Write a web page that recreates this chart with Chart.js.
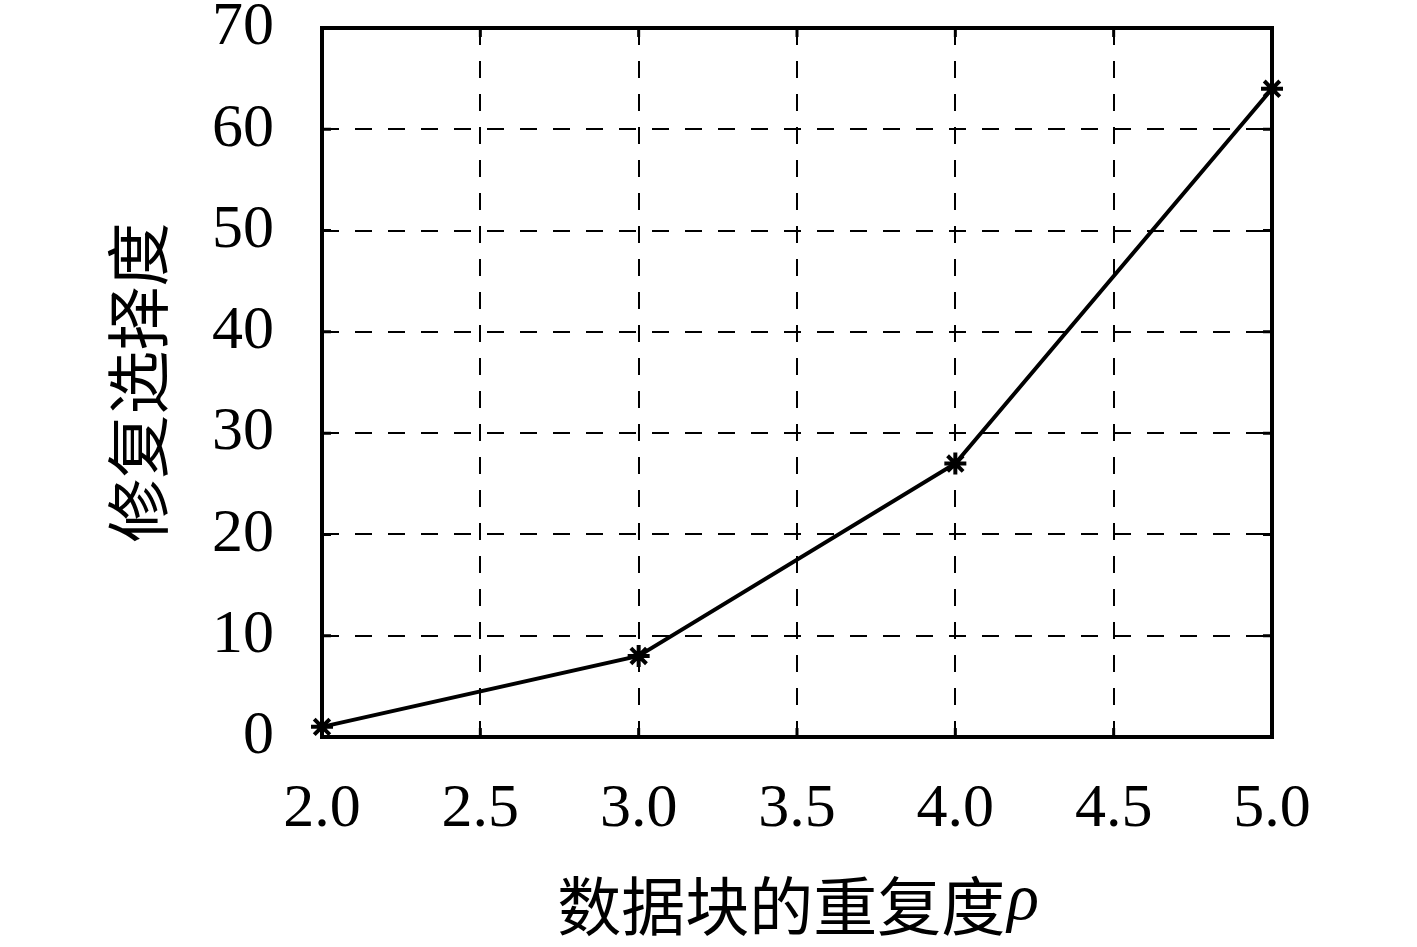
<!DOCTYPE html>
<html>
<head>
<meta charset="utf-8">
<title>修复选择度</title>
<script src="https://cdn.jsdelivr.net/npm/chart.js@4.4.1/dist/chart.umd.min.js"></script>
<style>
    html, body { margin: 0; padding: 0; background: #ffffff; }
    #wrap { width: 1417px; height: 947px; }
</style>
</head>
<body>
<div id="wrap"><canvas id="chart" width="1417" height="947"></canvas></div>
<script>
/* ------------------------------------------------------------
   DATA
------------------------------------------------------------ */
const repetition = [2.0, 3.0, 4.0, 5.0];      // 数据块的重复度 ρ
const selectivity = [1, 8, 27, 64];           // 修复选择度
const xTickValues = [2.0, 2.5, 3.0, 3.5, 4.0, 4.5, 5.0];
const yTickValues = [0, 10, 20, 30, 40, 50, 60, 70];

const X_TITLE = "数据块的重复度";
const X_TITLE_SYMBOL = "ρ";
const Y_TITLE = "修复选择度";

/* ------------------------------------------------------------
   STYLE
------------------------------------------------------------ */
const INK = "#000000";
const TICK_FONT = { family: "'Liberation Serif', 'DejaVu Serif', serif", size: 62 };
const CJK_FONT = "64px 'Noto Sans CJK SC', sans-serif";

/* ------------------------------------------------------------
   FRAME + INNER TICKS + AXIS TITLES
------------------------------------------------------------ */
const framePlugin = {
    id: "frame",
    beforeDatasetsDraw(chart) {
        const { ctx, chartArea: a, scales } = chart;
        const len = 9;
        ctx.save();
        ctx.strokeStyle = INK;
        ctx.lineWidth = 3;
        ctx.setLineDash([]);
        ctx.beginPath();
        xTickValues.forEach(v => {
            const px = scales.x.getPixelForValue(v);
            ctx.moveTo(px, a.bottom); ctx.lineTo(px, a.bottom - len);
            ctx.moveTo(px, a.top); ctx.lineTo(px, a.top + len);
        });
        yTickValues.forEach(v => {
            const py = scales.y.getPixelForValue(v);
            ctx.moveTo(a.left, py); ctx.lineTo(a.left + len, py);
            ctx.moveTo(a.right, py); ctx.lineTo(a.right - len, py);
        });
        ctx.stroke();
        ctx.lineWidth = 4;
        ctx.strokeRect(a.left, a.top, a.right - a.left, a.bottom - a.top);
        ctx.restore();
    },
    afterDraw(chart) {
        const { ctx, chartArea: a } = chart;
        ctx.save();
        ctx.fillStyle = INK;

        // x title (CJK + italic rho)
        ctx.font = CJK_FONT;
        const w1 = ctx.measureText(X_TITLE).width;
        const symFont = "italic 66px 'Liberation Serif', serif";
        ctx.font = symFont;
        const w2 = ctx.measureText(X_TITLE_SYMBOL).width;
        const cx = (a.left + a.right) / 2;
        const x0 = cx - (w1 + w2) / 2;
        ctx.textBaseline = "middle";
        ctx.textAlign = "left";
        ctx.font = CJK_FONT;
        ctx.fillText(X_TITLE, x0, 906);
        ctx.font = symFont;
        ctx.fillText(X_TITLE_SYMBOL, x0 + w1 + 2, 902);

        // y title, rotated
        ctx.translate(138, (a.top + a.bottom) / 2);
        ctx.rotate(-Math.PI / 2);
        ctx.font = CJK_FONT;
        ctx.textAlign = "center";
        ctx.fillText(Y_TITLE, 0, 0);
        ctx.restore();
    }
};

/* ------------------------------------------------------------
   CHART
------------------------------------------------------------ */
new Chart(document.getElementById("chart"), {
    type: "scatter",
    data: {
        datasets: [{
            data: repetition.map((x, i) => ({ x, y: selectivity[i] })),
            showLine: true,
            borderColor: INK,
            borderWidth: 4,
            tension: 0,
            pointStyle: "star",
            pointRadius: 11,
            pointHoverRadius: 11,
            pointBorderWidth: 4,
            pointBorderColor: INK,
            pointBackgroundColor: INK,
            clip: false
        }]
    },
    options: {
        responsive: false,
        animation: false,
        events: [],
        layout: { padding: { left: 0, top: 28, right: 145, bottom: 0 } },
        plugins: { legend: { display: false }, tooltip: { enabled: false } },
        scales: {
            x: {
                type: "linear",
                min: 2, max: 5,
                afterBuildTicks: s => { s.ticks = xTickValues.map(v => ({ value: v })); },
                afterFit: s => {
                    s.height = 947 - 737;
                    s.paddingLeft = 0; s.paddingRight = 0;
                },
                ticks: {
                    color: INK,
                    font: TICK_FONT,
                    padding: 36,
                    maxRotation: 0,
                    callback: v => v.toFixed(1)
                },
                grid: { color: INK, lineWidth: 2, drawTicks: false },
                border: { display: false, dash: [17, 16] }
            },
            y: {
                type: "linear",
                min: 0, max: 70,
                afterBuildTicks: s => { s.ticks = yTickValues.map(v => ({ value: v })); },
                afterFit: s => {
                    s.width = 322;
                    s.paddingTop = 0; s.paddingBottom = 0;
                },
                ticks: {
                    color: INK,
                    font: TICK_FONT,
                    padding: 48,
                    callback: v => String(v)
                },
                grid: { color: INK, lineWidth: 2, drawTicks: false },
                border: { display: false, dash: [17, 16] }
            }
        }
    },
    plugins: [framePlugin]
});
</script>
</body>
</html>
